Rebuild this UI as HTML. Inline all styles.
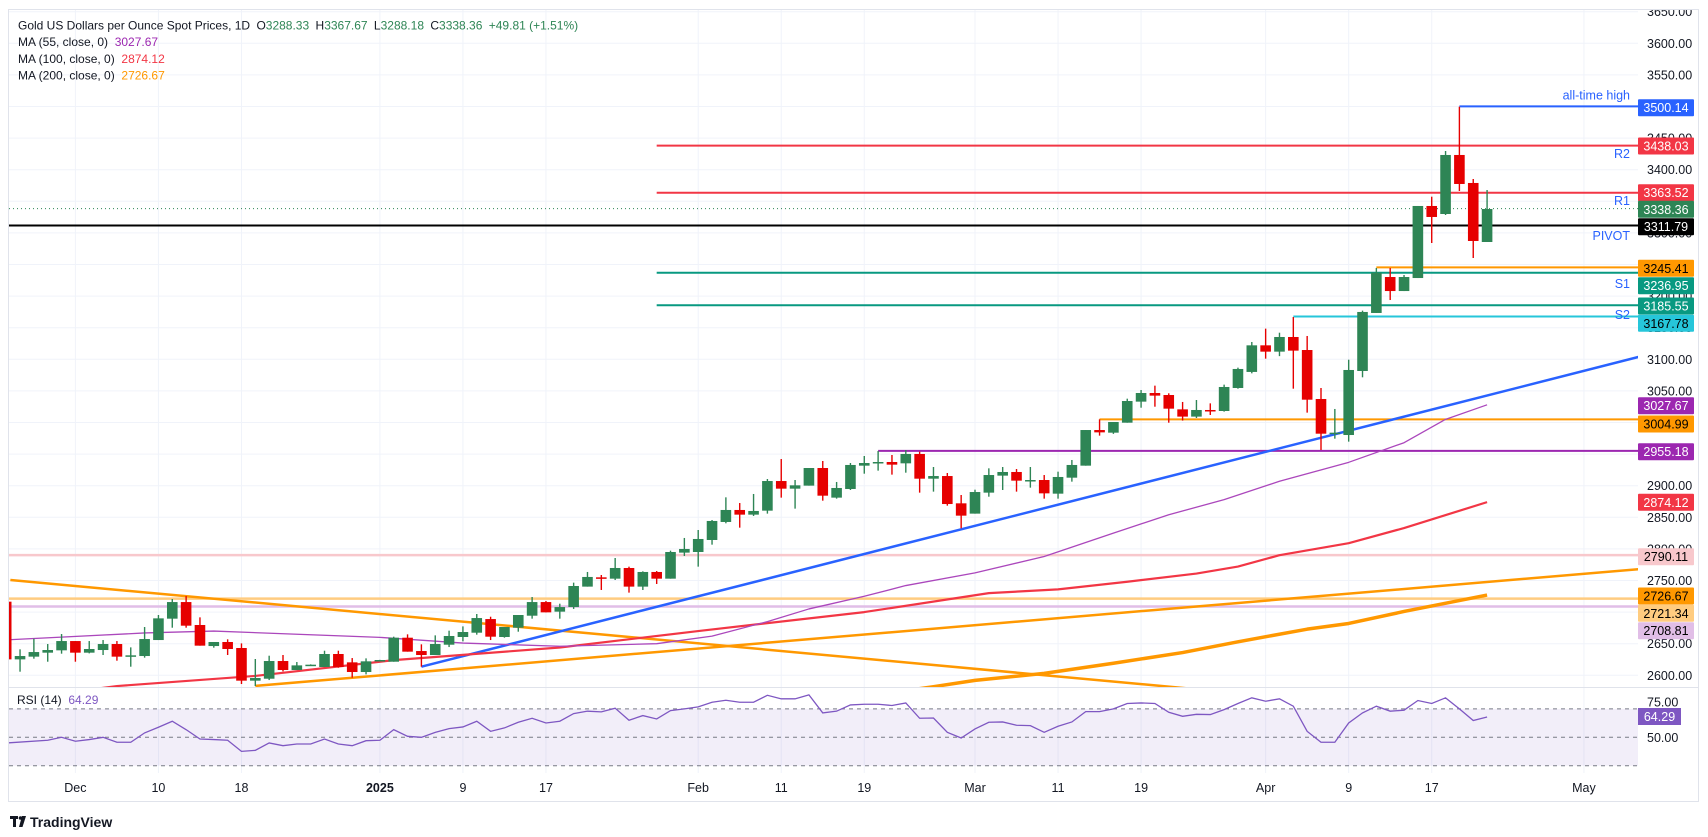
<!DOCTYPE html>
<html><head><meta charset="utf-8"><style>
html,body{margin:0;padding:0;background:#fff;}
svg{display:block;font-family:"Liberation Sans",sans-serif;}
.pre{white-space:pre;}
</style></head><body>
<svg id="c" width="1708" height="837" xmlns="http://www.w3.org/2000/svg">
<defs>
<clipPath id="mainClip"><rect x="9" y="10" width="1629" height="677"/></clipPath>
<clipPath id="rsiClip"><rect x="9" y="688" width="1629" height="85"/></clipPath>
<clipPath id="axClip"><rect x="1638" y="10" width="60" height="677"/></clipPath>
</defs>
</svg>
<script>
// ---------- DATA ----------
const firstIdx = -5;
const opens = [2716.5,2625.2,2629.5,2635.8,2639.5,2654.2,2635.8,2640.0,2649.5,2630.5,2630.5,2655.8,2689.6,2715.9,2679.6,2646.3,2652.7,2643.2,2591.5,2594.6,2622.6,2608.4,2615.7,2613.1,2633.7,2620.5,2605.2,2623.1,2621.5,2659.5,2638.4,2632.1,2648.4,2660.6,2667.4,2689.0,2660.6,2675.3,2694.3,2715.9,2700.7,2708.0,2740.3,2755.0,2752.9,2769.8,2740.3,2763.5,2752.9,2794.1,2795.1,2814.1,2842.6,2861.6,2854.2,2860.5,2907.4,2895.3,2900.1,2928.0,2881.1,2894.8,2931.7,2935.4,2937.5,2935.4,2950.2,2911.1,2915.3,2872.1,2855.8,2889.0,2915.9,2921.7,2908.0,2909.0,2887.4,2912.7,2931.7,2988.1,2983.9,2999.7,3033.0,3046.7,3043.5,3020.8,3009.3,3019.8,3018.2,3054.6,3080.0,3122.1,3112.1,3135.3,3114.7,3037.2,2981.8,2980.2,3081.5,3173.3,3230.2,3208.0,3228.6,3342.6,3329.9,3423.3,3379.0,3285.6];
const highs = [2716.5,2641.1,2657.9,2649.5,2665.3,2654.2,2654.2,2655.8,2654.2,2644.2,2676.4,2695.4,2720.7,2725.4,2691.7,2652.7,2656.9,2650.5,2625.8,2631.0,2632.1,2621.0,2617.3,2638.9,2638.9,2627.3,2626.8,2624.5,2661.1,2664.8,2649.0,2663.2,2670.6,2677.4,2697.0,2692.7,2676.4,2695.4,2723.9,2717.5,2713.3,2746.6,2763.5,2758.7,2785.6,2771.9,2764.5,2765.0,2797.2,2817.3,2829.9,2845.7,2881.6,2872.6,2886.9,2910.6,2942.2,2909.0,2928.0,2939.1,2905.9,2935.9,2947.0,2954.9,2948.6,2956.5,2953.9,2929.6,2920.1,2885.3,2893.7,2927.5,2929.6,2926.4,2929.6,2916.9,2922.2,2940.7,2988.1,3005.0,3000.8,3037.7,3051.4,3058.3,3046.2,3032.5,3035.6,3030.3,3059.9,3086.8,3127.4,3148.5,3142.1,3166.9,3136.9,3054.6,3021.4,3099.4,3177.0,3244.5,3244.5,3233.4,3342.6,3357.3,3429.6,3499.7,3385.3,3367.9];
const lows = [2625.2,2605.7,2626.3,2621.5,2634.2,2621.5,2634.7,2632.1,2623.1,2613.6,2627.9,2655.8,2675.3,2675.3,2646.9,2643.7,2632.1,2586.2,2583.0,2592.5,2606.2,2608.4,2615.2,2613.1,2612.0,2596.2,2601.5,2622.6,2621.5,2637.4,2613.6,2632.1,2644.7,2653.7,2664.3,2655.8,2659.5,2669.0,2689.6,2699.6,2689.6,2705.0,2740.3,2735.0,2750.8,2730.8,2735.0,2744.5,2752.9,2788.8,2771.9,2806.7,2840.5,2833.6,2852.1,2855.8,2881.1,2863.7,2900.1,2876.3,2879.5,2893.2,2919.0,2923.8,2917.5,2920.6,2889.0,2890.6,2868.4,2832.6,2855.8,2882.6,2893.2,2890.6,2896.9,2879.5,2879.5,2906.4,2931.7,2979.2,2982.0,2999.7,3023.4,3025.0,2999.7,3003.0,3007.1,3011.9,3017.2,3053.5,3077.8,3101.0,3105.0,3053.5,3015.6,2956.5,2974.4,2969.7,3071.5,3173.3,3193.8,3208.0,3228.6,3284.0,3328.3,3366.3,3260.3,3285.6];
const closes = [2625.2,2630.5,2636.8,2640.0,2654.2,2635.8,2641.6,2649.5,2629.5,2631.6,2657.4,2690.1,2715.9,2678.5,2646.9,2652.7,2641.6,2591.5,2595.7,2622.6,2608.4,2615.7,2616.8,2633.7,2613.1,2605.2,2622.1,2624.2,2659.5,2637.4,2632.1,2649.5,2662.2,2668.5,2690.6,2661.1,2676.4,2695.4,2715.9,2699.6,2708.0,2741.3,2755.6,2752.9,2769.8,2740.3,2763.5,2752.9,2795.1,2799.9,2815.7,2844.2,2861.6,2854.2,2860.0,2907.4,2895.3,2900.6,2928.0,2884.2,2896.4,2932.8,2935.9,2937.5,2933.3,2950.2,2911.1,2915.3,2871.0,2852.6,2890.0,2916.9,2921.7,2908.0,2909.0,2887.9,2913.8,2932.8,2988.1,2984.4,3000.8,3034.0,3046.7,3042.5,3021.9,3009.3,3019.8,3018.8,3056.2,3084.7,3122.1,3112.1,3135.3,3113.7,3036.1,2982.3,2983.9,3083.1,3174.9,3237.1,3208.0,3230.2,3342.6,3325.2,3423.3,3377.4,3287.2,3337.8];

const ma55Idx = [-5,5,10,22,28,35,42,46,50,53,57,60,65,70,75,79,83,87,92,96,99,102];
const ma55Val = [2656,2667,2670,2660,2651,2646,2650,2662,2685,2705,2725,2742,2762,2788,2825,2854,2878,2907,2937,2968,3005,3028];
const ma100Idx = [-5,3,13,23,35,45,57,66,71,76,81,84,87,92,96,102];
const ma100Val = [2560,2583,2599,2624,2644,2670,2700,2730,2736,2748,2761,2772,2790,2809,2833,2874];
const ma200Idx = [55,62,65,70,75,80,84,89,92,96,102];
const ma200Val = [2560,2582,2592,2603,2619,2636,2653,2673,2682,2701,2727];

const rsiIdx = [-5,-2,-1,0,1,2,3,4,5,6,7,8,9,10,11,12,13,14,15,16,17,18,19,20,21,22,23,24,25,26,27,28,29,30,31,32,33,34,35,36,37,38,39,40,41,42,43,44,45,46,47,48,49,50,51,52,53,54,55,56,57,58,59,60,61,62,63,64,65,66,67,68,69,70,71,72,73,74,75,76,77,78,79,80,81,82,83,84,85,86,87,88,89,90,91,92,93,94,95,96,97,98,99,100,101,102];
const rsiVal = [46.0,47.9,50.0,47.2,48.4,50.0,46.5,46.5,53.1,57.1,61.3,55.4,48.8,48.4,47.9,40.1,40.8,46.0,44.1,45.3,45.3,48.8,45.3,44.1,47.6,47.9,55.4,50.7,50.0,53.5,56.1,57.3,61.3,54.2,56.6,60.6,63.4,60.1,61.3,66.7,68.4,67.9,70.5,62.0,65.3,62.9,68.8,70.0,71.4,74.7,76.1,74.7,74.7,79.6,77.1,77.1,79.9,67.2,68.4,72.8,73.3,73.3,72.4,74.2,63.4,63.6,53.5,49.5,55.9,60.6,60.8,58.5,58.2,53.5,57.8,60.8,68.1,68.1,70.0,73.8,74.2,73.8,67.6,64.8,66.2,66.0,69.5,73.8,77.8,75.4,77.1,71.9,54.2,46.5,46.5,60.1,67.2,71.9,68.4,69.1,75.9,73.8,77.8,70.0,61.8,64.3];

const priceTicks = [3650,3600,3550,3500,3450,3400,3350,3300,3250,3200,3150,3100,3050,3000,2950,2900,2850,2800,2750,2700,2650,2600];
const dateLabels = ["Dec","10","18","2025","9","17","Feb","11","19","Mar","11","19","Apr","9","17","May"];
const dateIdx = [0,6,12,22,28,34,45,51,57,65,71,77,86,92,98,109];

const levelVals = [3500.14,3438.03,3363.52,3311.79,3245.41,3236.95,3185.55,3167.78,3004.99,2955.18,2790.11,2721.34,2708.81];
const levelCols = ["#2962ff","#f23645","#f23645","#000000","#ff9800","#089981","#089981","#26c6da","#ff9800","#9c27b0","#f8c8cc","#ffcc80","#e1bee7"];
const levelStart = [100,42,42,null,94,42,42,88,74,58,null,null,null];
const levelNames = ["all-time-high-line","r2-line","r1-line","pivot-line","resistance-3245-line","s1-line","s2-line","support-3167-line","support-3004-line","support-2955-line","level-2790-line","level-2721-line","level-2708-line"];

const boxVals = ["3500.14","3438.03","3363.52","3338.36","3311.79","3245.41","3236.95","3185.55","3167.78","3027.67","3004.99","2955.18","2874.12","2790.11","2726.67","2721.34","2708.81"];
const boxYs = [107.7,146,192.7,209.3,226.7,268.3,285.7,306,323.3,405.7,424,451.7,502.3,556.7,596,613.3,630.7];
const boxBg = ["#2962ff","#f23645","#f23645","#2e8555","#000000","#ff9800","#089981","#089981","#26c6da","#9c27b0","#ff9800","#9c27b0","#f23645","#f8c8cc","#ff9800","#ffcc80","#e1bee7"];
const boxFg = ["#fff","#fff","#fff","#fff","#fff","#000","#fff","#fff","#000","#fff","#000","#fff","#fff","#000","#000","#000","#000"];

// ---------- SCALES ----------
const xOf = i => 75.4 + 13.84 * i;
const yOf = p => 359.3 - (p - 3100) * 0.632;
const rY = v => 737.3 - (v - 50) * 1.42;
const NS = "http://www.w3.org/2000/svg";
const svg = document.getElementById('c');
function mk(tag, attrs, parent) {
  const e = document.createElementNS(NS, tag);
  for (const k in attrs) e.setAttribute(k, attrs[k]);
  (parent || svg).appendChild(e);
  return e;
}
function g(clip) { return mk('g', clip ? {'clip-path': 'url(#' + clip + ')'} : {}); }

let fr = mk('rect', {x: 8.5, y: 9.5, width: 1690, height: 792, fill: '#fff', stroke: '#e0e3eb'});



const grid = g('mainClip');


priceTicks.forEach(p => {
  const l = mk('line', {x1: 9, x2: 1638, y1: yOf(p), y2: yOf(p), stroke: '#f0f3fa', 'stroke-width': 1}, grid);
  
  
});
const vgrid = mk('g', {});


dateIdx.forEach(i => {
  const l = mk('line', {x1: xOf(i), x2: xOf(i), y1: 10, y2: 773, stroke: '#f0f3fa', 'stroke-width': 1}, vgrid);
  
  
});

let sep = mk('line', {x1: 9, x2: 1698, y1: 687.5, y2: 687.5, stroke: '#e0e3eb'});



const main = g('mainClip');



levelVals.forEach((v, k) => {
  const x1 = levelStart[k] === null ? 9 : xOf(levelStart[k]);
  const l = mk('line', {x1: x1, x2: 1638, y1: yOf(v), y2: yOf(v), stroke: levelCols[k], 'stroke-width': k >= 10 ? 2.5 : 2}, main);
  
  
});
let lp = mk('line', {x1: 9, x2: 1638, y1: yOf(3338.36), y2: yOf(3338.36), stroke: '#2e8555', 'stroke-width': 1, 'stroke-dasharray': '1 3'}, main);



const tlBlue = [[25, 2613.6], [113.5, 3106.8]];
const tlDown = [[-4.7, 2750.8], [80.5, 2579]];
const tlUp = [[13, 2583.2], [113, 2768]];
function trend(pts, col, w, name) {
  const l = mk('line', {x1: xOf(pts[0][0]), y1: yOf(pts[0][1]), x2: xOf(pts[1][0]), y2: yOf(pts[1][1]), stroke: col, 'stroke-width': w}, main);
  
  
}
trend(tlDown, '#ff9800', 2.5, 'descending-trendline');
trend(tlUp, '#ff9800', 2.5, 'ascending-trendline-orange');
trend(tlBlue, '#2962ff', 2.5, 'ascending-trendline-blue');

function ma(idx, val, col, w, name) {
  const pts = idx.map((i, k) => xOf(i) + ',' + yOf(val[k])).join(' ');
  const l = mk('polyline', {points: pts, fill: 'none', stroke: col, 'stroke-width': w, 'stroke-linejoin': 'round'}, main);
  
  
}
ma(ma200Idx, ma200Val, '#ff9800', 3.5, 'ma-200-line');
ma(ma100Idx, ma100Val, '#f23645', 2.2, 'ma-100-line');
ma(ma55Idx, ma55Val, '#ab47bc', 1.3, 'ma-55-line');

const cg = mk('g', {}, main);


opens.forEach((o, k) => {
  const i = firstIdx + k, c = closes[k], h = highs[k], lo = lows[k];
  const up = c >= o, col = up ? '#2e8555' : '#e60000';
  const x = xOf(i);
  const w = mk('line', {x1: x, x2: x, y1: yOf(h), y2: yOf(lo), stroke: col, 'stroke-width': 1.4}, cg);
  
  
  const top = yOf(Math.max(o, c)), bot = yOf(Math.min(o, c));
  const b = mk('rect', {x: x - 5.3, y: top, width: 10.6, height: Math.max(1.5, bot - top), fill: col}, cg);
  
  
});

const pl = [["all-time high", 99.5], ["R2", 158], ["R1", 205], ["PIVOT", 240], ["S1", 288], ["S2", 319]];
pl.forEach(([t, y]) => {
  const e = mk('text', {x: 1630, y: y, 'text-anchor': 'end', 'font-size': 12.5, fill: '#2962ff'});
  e.textContent = t;
  
  
});

const ax = g('axClip');


priceTicks.forEach(p => {
  const e = mk('text', {x: 1647, y: yOf(p) + 4.5, 'font-size': 12.5, fill: '#131722'}, ax);
  e.textContent = p.toFixed(2);
  
  
});
boxVals.forEach((v, k) => {
  const r = mk('rect', {x: 1638, y: boxYs[k] - 8.5, width: 56, height: 17, fill: boxBg[k], rx: 1});
  
  
  const t = mk('text', {x: 1666, y: boxYs[k] + 4.5, 'text-anchor': 'middle', 'font-size': 12.5, fill: boxFg[k]});
  t.textContent = v;
  
  
});

const rp = g('rsiClip');


let band = mk('rect', {x: 9, y: rY(70), width: 1629, height: rY(30) - rY(70), fill: '#7e57c2', 'fill-opacity': 0.1}, rp);


[70, 50, 30].forEach(v => {
  const l = mk('line', {x1: 9, x2: 1638, y1: rY(v), y2: rY(v), stroke: '#787b86', 'stroke-width': 1, 'stroke-dasharray': '4 4'}, rp);
  
  
});
let rl = mk('polyline', {points: rsiIdx.map((i, k) => xOf(i) + ',' + rY(rsiVal[k])).join(' '), fill: 'none', stroke: '#7e57c2', 'stroke-width': 1.3}, rp);


[[75, '75.00'], [50, '50.00']].forEach(([v, t]) => {
  const e = mk('text', {x: 1647, y: rY(v) + 4.5, 'font-size': 12.5, fill: '#131722'});
  e.textContent = t;
  
  
});
let rb = mk('rect', {x: 1638, y: 708, width: 43, height: 17, fill: '#7e57c2'});


let rbt = mk('text', {x: 1659.5, y: 721, 'text-anchor': 'middle', 'font-size': 12.5, fill: '#fff'});
rbt.textContent = '64.29';


let rlab = mk('text', {x: 17, y: 704, 'font-size': 12, fill: '#131722', class: 'pre'});
rlab.innerHTML = 'RSI (14)  <tspan fill="#7e57c2">64.29</tspan>';



dateLabels.forEach((t, k) => {
  const e = mk('text', {x: xOf(dateIdx[k]), y: 792, 'text-anchor': 'middle', 'font-size': 12.5, fill: '#131722', 'font-weight': t === '2025' ? 'bold' : 'normal'});
  e.textContent = t;
  
  
});

let h1 = mk('text', {x: 18, y: 29.5, 'font-size': 12, fill: '#131722', class: 'pre'});
h1.innerHTML = 'Gold US Dollars per Ounce Spot Prices, 1D <tspan dx="3">O</tspan><tspan fill="#2e8555">3288.33</tspan> <tspan dx="3">H</tspan><tspan fill="#2e8555">3367.67</tspan> <tspan dx="3">L</tspan><tspan fill="#2e8555">3288.18</tspan> <tspan dx="3">C</tspan><tspan fill="#2e8555">3338.36</tspan> <tspan dx="3" fill="#2e8555">+49.81 (+1.51%)</tspan>';


const legRows = [['MA (55, close, 0)', '3027.67', '#9c27b0', 46], ['MA (100, close, 0)', '2874.12', '#f23645', 63], ['MA (200, close, 0)', '2726.67', '#ff9800', 79.5]];
legRows.forEach(([a, b, col, y]) => {
  const e = mk('text', {x: 18, y: y, 'font-size': 12, fill: '#131722', class: 'pre'});
  e.innerHTML = a + '  <tspan fill="' + col + '">' + b + '</tspan>';
  
  
});

let lg = mk('g', {});


mk('rect', {x: 10, y: 816, width: 8, height: 3, fill: '#131722'}, lg);
mk('rect', {x: 13, y: 816, width: 3, height: 11, fill: '#131722'}, lg);
mk('circle', {cx: 20.5, cy: 818, r: 1.8, fill: '#131722'}, lg);
mk('polygon', {points: '22,816 26,816 22.5,827 19,827', fill: '#131722'}, lg);
let lt = mk('text', {x: 30, y: 827, 'font-size': 14, 'font-weight': 'bold', fill: '#131722'}, lg);
lt.textContent = 'TradingView';


</script>
</body></html>
